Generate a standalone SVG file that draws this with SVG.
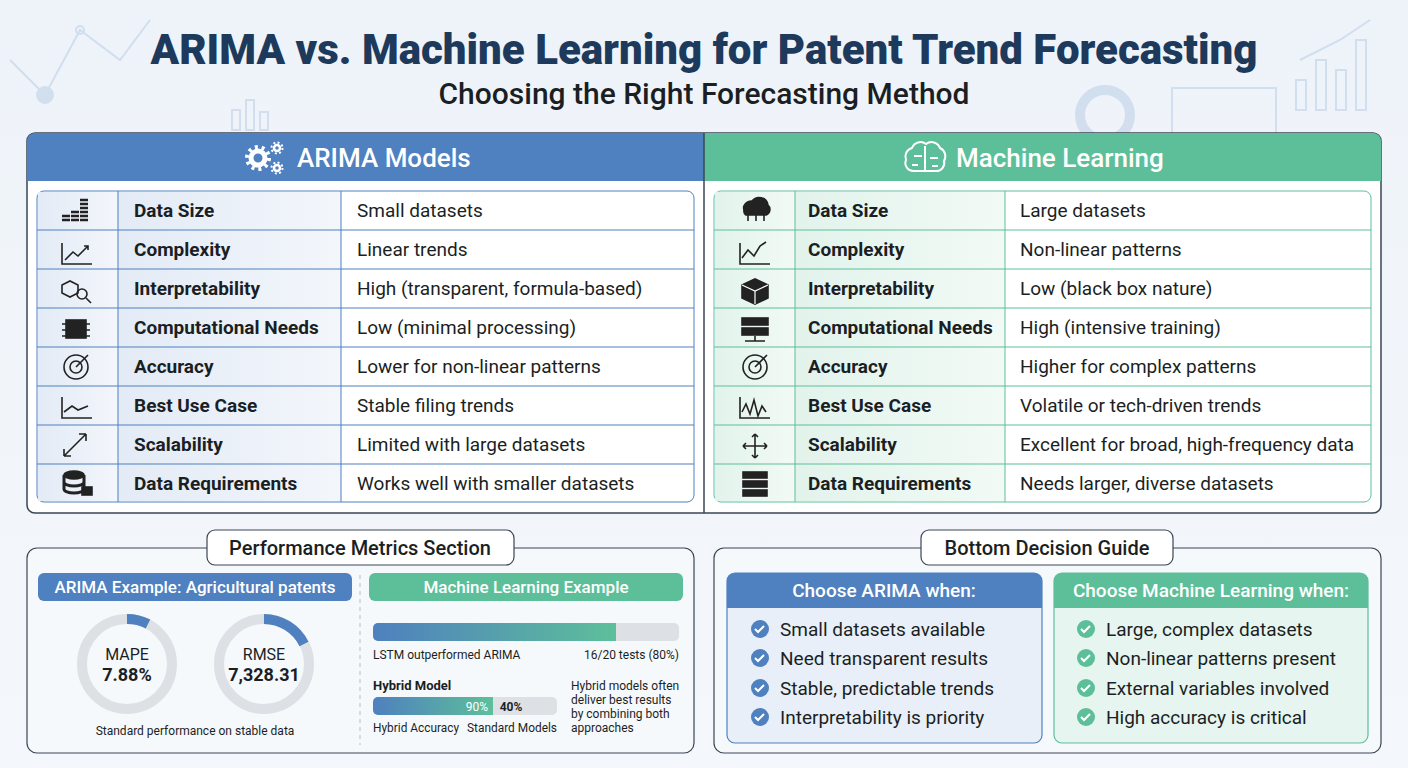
<svg xmlns="http://www.w3.org/2000/svg" width="1408" height="768" viewBox="0 0 1408 768">
<defs>
<linearGradient id="bg" x1="0" y1="0" x2="0" y2="1"><stop offset="0" stop-color="#eef3f9"/><stop offset="1" stop-color="#f4f7fb"/></linearGradient>
<linearGradient id="lstm" x1="0" y1="0" x2="1" y2="0"><stop offset="0" stop-color="#4f80bf"/><stop offset="1" stop-color="#5dbf9a"/></linearGradient>
<linearGradient id="lrow" x1="0" y1="0" x2="1" y2="0"><stop offset="0" stop-color="#e3ebf6"/><stop offset="1" stop-color="#f3f6fb"/></linearGradient>
<linearGradient id="rrow" x1="0" y1="0" x2="1" y2="0"><stop offset="0" stop-color="#e2f3ec"/><stop offset="1" stop-color="#f2faf6"/></linearGradient>
<style>
text{font-family:"Roboto","Liberation Sans",sans-serif;fill:#1b1f24}
.lab{font-size:19px;font-weight:700}
.val{font-size:19px}
.hdr{font-size:26px;font-weight:500;fill:#fff}
.pill{font-size:17px;font-weight:500;fill:#fff}
.sm{font-size:12px}
.ck{font-size:19px}
.grid{stroke:#4f80bf;stroke-width:1;fill:none}
.gridg{stroke:#5dbf9a;stroke-width:1;fill:none}
.ic{stroke:#222;stroke-width:1.6;fill:none}
</style>
</defs>
<rect width="1408" height="768" fill="url(#bg)"/>
<g opacity="0.25" stroke="#7ea2cf" fill="none" stroke-width="2">
<polyline points="10,60 45,95 80,30 120,60 150,20"/><circle cx="45" cy="95" r="8" fill="#7ea2cf"/><circle cx="80" cy="30" r="4"/>
<rect x="1296" y="80" width="10" height="30"/><rect x="1316" y="60" width="10" height="50"/><rect x="1336" y="70" width="10" height="40"/><rect x="1356" y="40" width="10" height="70"/>
<polyline points="1300,60 1340,40 1370,20"/>
<circle cx="1105" cy="115" r="25" stroke-width="10"/>
<rect x="1172" y="88" width="104" height="46"/>
<rect x="232" y="110" width="8" height="20"/><rect x="246" y="100" width="8" height="30"/><rect x="260" y="112" width="8" height="18"/>
</g>
<text x="704" y="64" text-anchor="middle" style="font-size:42px;font-weight:900;fill:#1d3a5c">ARIMA vs. Machine Learning for Patent Trend Forecasting</text>
<text x="704" y="104" text-anchor="middle" style="font-size:30px;font-weight:500">Choosing the Right Forecasting Method</text>

<g id="main-panel">
<rect x="27" y="133" width="1354" height="380" rx="8" fill="#fff" stroke="#3a4656" stroke-width="1.5"/>
<path d="M35,133 H704 V181 H27 V141 A8,8 0 0 1 35,133Z" fill="#4f80bf"/>
<path d="M704,133 H1373 A8,8 0 0 1 1381,141 V181 H704Z" fill="#5dbf9a"/>
<line x1="704" y1="133" x2="704" y2="513" stroke="#3a4656" stroke-width="1.5"/>
</g>

<g id="arima-table">
<g fill="none" stroke="#fff">
<circle cx="258" cy="158" r="7" stroke-width="5"/><circle cx="258" cy="158" r="11" stroke-width="4" stroke-dasharray="3,3.9"/>
<circle cx="277" cy="148" r="3" stroke-width="2.5"/><circle cx="277" cy="148" r="5.5" stroke-width="2" stroke-dasharray="2,2.3"/>
<circle cx="277" cy="168" r="3" stroke-width="2.5"/><circle cx="277" cy="168" r="5.5" stroke-width="2" stroke-dasharray="2,2.3"/>
</g>
<text x="297" y="167" class="hdr">ARIMA Models</text>
<rect x="37" y="191" width="657" height="311" rx="7" fill="#fff" class="grid"/>
<rect x="38" y="192" width="80" height="309" fill="url(#lrow)"/>
<rect x="118" y="192" width="223" height="309" fill="url(#lrow)"/>
<g class="grid">
<line x1="118" y1="191" x2="118" y2="502"/><line x1="341" y1="191" x2="341" y2="502"/>
<line x1="37" y1="230" x2="694" y2="230"/><line x1="37" y1="269" x2="694" y2="269"/><line x1="37" y1="308" x2="694" y2="308"/><line x1="37" y1="347" x2="694" y2="347"/><line x1="37" y1="386" x2="694" y2="386"/><line x1="37" y1="425" x2="694" y2="425"/><line x1="37" y1="464" x2="694" y2="464"/>
</g>
<text x="134" y="217" class="lab">Data Size</text><text x="134" y="256" class="lab">Complexity</text><text x="134" y="295" class="lab">Interpretability</text><text x="134" y="334" class="lab">Computational Needs</text><text x="134" y="373" class="lab">Accuracy</text><text x="134" y="412" class="lab">Best Use Case</text><text x="134" y="451" class="lab">Scalability</text><text x="134" y="490" class="lab">Data Requirements</text>
<text x="357" y="217" class="val">Small datasets</text><text x="357" y="256" class="val">Linear trends</text><text x="357" y="295" class="val">High (transparent, formula-based)</text><text x="357" y="334" class="val">Low (minimal processing)</text><text x="357" y="373" class="val">Lower for non-linear patterns</text><text x="357" y="412" class="val">Stable filing trends</text><text x="357" y="451" class="val">Limited with large datasets</text><text x="357" y="490" class="val">Works well with smaller datasets</text>
<g class="ic">
<g stroke-width="2.5"><path d="M62,220 h8 M62,216 h8 M71,220 h8 M71,216 h8 M71,212 h8 M80,220 h8 M80,216 h8 M80,212 h8 M80,208 h8 M80,204 h8 M80,200 h8"/></g>
<path d="M62,243 v21 h30 M65,260 l8,-8 5,4 10,-10 M84,246 h4 v4"/>
<path d="M62,285 l8,-4 8,4 v8 l-8,4 -8,-4z"/><circle cx="82" cy="294" r="5"/><path d="M86,298 l5,5"/>
<rect x="66" y="320" width="20" height="18" fill="#222"/><path d="M62,324h4M62,330h4M62,336h4M86,324h4M86,330h4M86,336h4"/>
<circle cx="76" cy="367" r="12"/><circle cx="76" cy="367" r="6"/><path d="M76,367 l12,-12"/>
<path d="M62,397 v21 h30 M64,412 l8,-6 6,4 10,-4"/>
<path d="M64,456 l22,-22 M64,456 v-7 M64,456 h7 M86,434 h-7 M86,434 v7"/>
<ellipse cx="74" cy="475" rx="10" ry="4" fill="#222"/><path d="M64,475 v14 a10,4 0 0 0 20,0 v-14 M64,482 a10,4 0 0 0 20,0" stroke-width="3"/><rect x="82" y="487" width="10" height="8" fill="#222"/>
</g>
</g>

<g id="ml-table">
<g stroke="#fff" stroke-width="2" fill="none">
<path d="M906,160 a9,9 0 0 1 6,-12 a9,9 0 0 1 14,-4 a9,9 0 0 1 14,4 a9,9 0 0 1 4,13 a8,8 0 0 1 -8,10 h-22 a8,8 0 0 1 -8,-11z"/>
<path d="M925,146 v26 M914,156 h8 M930,158 h8 M912,165 h6 M932,166 h6"/>
</g>
<text x="956" y="167" class="hdr">Machine Learning</text>
<rect x="714" y="191" width="657" height="311" rx="7" fill="#fff" class="gridg"/>
<rect x="715" y="192" width="80" height="309" fill="url(#rrow)"/>
<rect x="795" y="192" width="210" height="309" fill="url(#rrow)"/>
<g class="gridg">
<line x1="795" y1="191" x2="795" y2="502"/><line x1="1005" y1="191" x2="1005" y2="502"/>
<line x1="714" y1="230" x2="1371" y2="230"/><line x1="714" y1="269" x2="1371" y2="269"/><line x1="714" y1="308" x2="1371" y2="308"/><line x1="714" y1="347" x2="1371" y2="347"/><line x1="714" y1="386" x2="1371" y2="386"/><line x1="714" y1="425" x2="1371" y2="425"/><line x1="714" y1="464" x2="1371" y2="464"/>
</g>
<text x="808" y="217" class="lab">Data Size</text><text x="808" y="256" class="lab">Complexity</text><text x="808" y="295" class="lab">Interpretability</text><text x="808" y="334" class="lab">Computational Needs</text><text x="808" y="373" class="lab">Accuracy</text><text x="808" y="412" class="lab">Best Use Case</text><text x="808" y="451" class="lab">Scalability</text><text x="808" y="490" class="lab">Data Requirements</text>
<text x="1020" y="217" class="val">Large datasets</text><text x="1020" y="256" class="val">Non-linear patterns</text><text x="1020" y="295" class="val">Low (black box nature)</text><text x="1020" y="334" class="val">High (intensive training)</text><text x="1020" y="373" class="val">Higher for complex patterns</text><text x="1020" y="412" class="val">Volatile or tech-driven trends</text><text x="1020" y="451" class="val">Excellent for broad, high-frequency data</text><text x="1020" y="490" class="val">Needs larger, diverse datasets</text>
<g class="ic">
<path d="M744,210 a8,7 0 0 1 8,-9 a9,9 0 0 1 16,4 a6,6 0 0 1 -2,10 h-20 a5,5 0 0 1 -2,-5z" fill="#222"/><path d="M748,215 v6 M756,215 v6 M764,215 v6"/>
<path d="M740,243 v21 h30 M742,258 l6,-8 6,6 6,-10 6,-4"/>
<path d="M742,285 l13,-6 13,6 v13 l-13,6 -13,-6z" fill="#222"/><path d="M742,285 l13,6 13,-6 M755,291 v13" stroke="#fff" stroke-width="1.2"/>
<rect x="742" y="318" width="26" height="7" fill="#222"/><rect x="742" y="328" width="26" height="7" fill="#222"/><path d="M755,336 v5 M745,341 h20"/>
<circle cx="755" cy="367" r="12"/><circle cx="755" cy="367" r="6"/><path d="M755,367 l12,-12"/>
<path d="M740,397 v21 h30 M742,412 l4,-8 4,10 4,-14 4,16 4,-10 4,6"/>
<path d="M755,434 v24 M743,446 h24 M755,434 l-3,3 M755,434 l3,3 M743,446 l3,-3 M743,446 l3,3 M767,446 l-3,-3 M767,446 l-3,3 M755,458 l-3,-3 M755,458 l3,-3"/>
<rect x="743" y="472" width="24" height="6" fill="#222"/><rect x="743" y="481" width="24" height="6" fill="#222"/><rect x="743" y="490" width="24" height="6" fill="#222"/>
</g>
</g>

<g id="performance-metrics">
<rect x="27" y="548" width="667" height="205" rx="10" fill="#f6f9fc" stroke="#3a4656" stroke-width="1.2"/>
<rect x="207" y="530" width="307" height="35" rx="8" fill="#fff" stroke="#3a4656" stroke-width="1.2"/>
<text x="360" y="555" text-anchor="middle" style="font-size:20px;font-weight:500">Performance Metrics Section</text>
<line x1="360" y1="575" x2="360" y2="745" stroke="#bbb" stroke-dasharray="4,4"/>
<rect x="38" y="573" width="314" height="28" rx="6" fill="#4f80bf"/>
<text x="195" y="593" text-anchor="middle" class="pill">ARIMA Example: Agricultural patents</text>
<rect x="369" y="573" width="314" height="28" rx="6" fill="#5dbf9a"/>
<text x="526" y="593" text-anchor="middle" class="pill">Machine Learning Example</text>
<circle cx="127" cy="664" r="45" fill="none" stroke="#dde0e4" stroke-width="10"/>
<path d="M127,619 A45,45 0 0 1 148,624" fill="none" stroke="#4f80bf" stroke-width="10"/>
<text x="127" y="660" text-anchor="middle" style="font-size:16px">MAPE</text>
<text x="127" y="681" text-anchor="middle" style="font-size:18px;font-weight:700">7.88%</text>
<circle cx="264" cy="664" r="45" fill="none" stroke="#dde0e4" stroke-width="10"/>
<path d="M264,619 A45,45 0 0 1 304,644" fill="none" stroke="#4f80bf" stroke-width="10"/>
<text x="264" y="660" text-anchor="middle" style="font-size:16px">RMSE</text>
<text x="264" y="681" text-anchor="middle" style="font-size:18px;font-weight:700">7,328.31</text>
<text x="195" y="735" text-anchor="middle" class="sm">Standard performance on stable data</text>
<rect x="373" y="623" width="306" height="18" rx="5" fill="#dde0e4"/>
<path d="M378,623 H616 V641 H378 A5,5 0 0 1 373,636 V628 A5,5 0 0 1 378,623Z" fill="url(#lstm)"/>
<text x="373" y="659" class="sm">LSTM outperformed ARIMA</text>
<text x="679" y="659" text-anchor="end" class="sm">16/20 tests (80%)</text>
<text x="373" y="690" style="font-size:13px;font-weight:700">Hybrid Model</text>
<rect x="373" y="697" width="184" height="18" rx="5" fill="#dde0e4"/>
<path d="M378,697 H493 V715 H378 A5,5 0 0 1 373,710 V702 A5,5 0 0 1 378,697Z" fill="url(#lstm)"/>
<text x="477" y="711" text-anchor="middle" style="font-size:12px;fill:#fff">90%</text>
<text x="511" y="711" text-anchor="middle" style="font-size:12px;font-weight:700">40%</text>
<text x="373" y="732" class="sm" textLength="86" lengthAdjust="spacingAndGlyphs">Hybrid Accuracy</text>
<text x="467" y="732" class="sm" textLength="90" lengthAdjust="spacingAndGlyphs">Standard Models</text>
<text x="571" y="690" class="sm">Hybrid models often</text>
<text x="571" y="704" class="sm">deliver best results</text>
<text x="571" y="718" class="sm">by combining both</text>
<text x="571" y="732" class="sm">approaches</text>
</g>

<g id="decision-guide">
<rect x="714" y="548" width="667" height="205" rx="10" fill="#f6f9fc" stroke="#3a4656" stroke-width="1.2"/>
<rect x="921" y="530" width="252" height="35" rx="8" fill="#fff" stroke="#3a4656" stroke-width="1.2"/>
<text x="1047" y="555" text-anchor="middle" style="font-size:20px;font-weight:500">Bottom Decision Guide</text>
<g id="choose-arima">
<rect x="727" y="573" width="315" height="170" rx="8" fill="#e8eff8" stroke="#4f80bf" stroke-width="1.2"/>
<path d="M735,573 H1034 A8,8 0 0 1 1042,581 V608 H727 V581 A8,8 0 0 1 735,573Z" fill="#4f80bf"/>
<text x="884" y="597" text-anchor="middle" style="font-size:19px;font-weight:500;fill:#fff">Choose ARIMA when:</text>
<g fill="#4f80bf"><circle cx="760" cy="629" r="9"/><circle cx="760" cy="658" r="9"/><circle cx="760" cy="688" r="9"/><circle cx="760" cy="717" r="9"/></g>
<g stroke="#fff" stroke-width="2" fill="none"><path d="M755,629 l3,3 6,-6"/><path d="M755,658 l3,3 6,-6"/><path d="M755,688 l3,3 6,-6"/><path d="M755,717 l3,3 6,-6"/></g>
<text x="780" y="636" class="ck">Small datasets available</text><text x="780" y="665" class="ck">Need transparent results</text><text x="780" y="695" class="ck">Stable, predictable trends</text><text x="780" y="724" class="ck">Interpretability is priority</text>
</g>
<g id="choose-ml">
<rect x="1054" y="573" width="314" height="170" rx="8" fill="#e6f5ef" stroke="#5dbf9a" stroke-width="1.2"/>
<path d="M1062,573 H1360 A8,8 0 0 1 1368,581 V608 H1054 V581 A8,8 0 0 1 1062,573Z" fill="#5dbf9a"/>
<text x="1211" y="597" text-anchor="middle" style="font-size:19px;font-weight:500;fill:#fff">Choose Machine Learning when:</text>
<g fill="#5dbf9a"><circle cx="1086" cy="629" r="9"/><circle cx="1086" cy="658" r="9"/><circle cx="1086" cy="688" r="9"/><circle cx="1086" cy="717" r="9"/></g>
<g stroke="#fff" stroke-width="2" fill="none"><path d="M1081,629 l3,3 6,-6"/><path d="M1081,658 l3,3 6,-6"/><path d="M1081,688 l3,3 6,-6"/><path d="M1081,717 l3,3 6,-6"/></g>
<text x="1106" y="636" class="ck">Large, complex datasets</text><text x="1106" y="665" class="ck">Non-linear patterns present</text><text x="1106" y="695" class="ck">External variables involved</text><text x="1106" y="724" class="ck">High accuracy is critical</text>
</g>
</g>
<g id="connectors"/>
</svg>
